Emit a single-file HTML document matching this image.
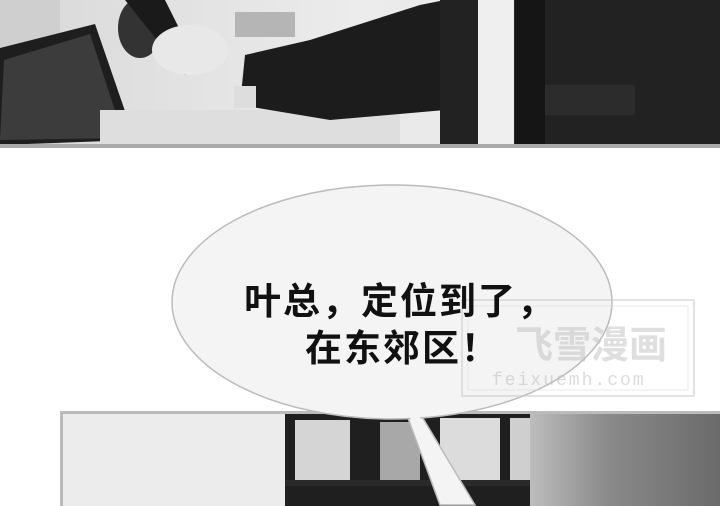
<!DOCTYPE html>
<html><head><meta charset="utf-8">
<style>
html,body{margin:0;padding:0;background:#fff;}
#root{position:relative;width:720px;height:506px;overflow:hidden;background:#fff;font-family:"Liberation Sans","Noto Sans CJK SC",sans-serif;}
.abs{position:absolute;}
</style></head>
<body>
<div id="root">
<svg class="abs" style="left:0;top:0" width="720" height="506">
 <defs>
  <linearGradient id="bg1" x1="0" x2="1"><stop offset="0" stop-color="#d8d8d8"/><stop offset="0.5" stop-color="#ececec"/><stop offset="1" stop-color="#e0e0e0"/></linearGradient>
  <linearGradient id="hair" x1="0" x2="1"><stop offset="0" stop-color="#bdbdbd"/><stop offset="0.4" stop-color="#8a8a8a"/><stop offset="1" stop-color="#6a6a6a"/></linearGradient>
 </defs>
 <g>
  <rect x="0" y="0" width="720" height="145" fill="url(#bg1)"/>
  <rect x="0" y="0" width="60" height="145" fill="#cfcfcf"/>
  <rect x="235" y="12" width="60" height="25" fill="#b5b5b5"/>
  <ellipse cx="140" cy="28" rx="22" ry="30" fill="#333"/>
  <polygon points="0,48 95,24 135,140 0,145" fill="#1e1e1e"/>
  <polygon points="4,60 90,34 124,138 0,140" fill="#3c3c3c"/>
  <rect x="100" y="110" width="300" height="35" fill="#dedede"/>
  <polygon points="125,0 165,0 200,70 185,75" fill="#1a1a1a"/>
  <ellipse cx="190" cy="50" rx="38" ry="25" fill="#e8e8e8"/>
  <polygon points="245,55 310,40 420,5 445,0 445,110 330,120 240,105" fill="#1c1c1c"/>
  <rect x="234" y="86" width="22" height="22" fill="#ddd"/>
  <rect x="440" y="0" width="280" height="145" fill="#222"/>
  <rect x="478" y="0" width="36" height="145" fill="#efefef"/>
  <rect x="515" y="0" width="30" height="145" fill="#151515"/>
  <rect x="545" y="85" width="90" height="30" fill="#2c2c2c"/>
  <rect x="0" y="144" width="720" height="4" fill="#aaa"/>
 </g>
 <g>
  <rect x="60" y="411" width="662" height="100" fill="#bbb"/>
  <rect x="63" y="414" width="660" height="95" fill="#ececec"/>
  <rect x="285" y="414" width="270" height="95" fill="#1f1f1f"/>
  <rect x="295" y="420" width="55" height="60" fill="#d5d5d5"/>
  <rect x="380" y="422" width="40" height="58" fill="#a8a8a8"/>
  <rect x="440" y="418" width="60" height="62" fill="#dcdcdc"/>
  <rect x="510" y="418" width="40" height="62" fill="#cfcfcf"/>
  <rect x="285" y="480" width="270" height="6" fill="#2a2a2a"/>
  <rect x="530" y="414" width="192" height="95" fill="url(#hair)"/>
 </g>
 <g>
  <polygon points="415,405 475,505 440,505 405,410" fill="#f4f4f4" stroke="#bbb" stroke-width="1.5"/>
  <ellipse cx="392" cy="302" rx="220" ry="117" fill="#f4f4f4" stroke="#bbb" stroke-width="1.5"/>
  <polygon points="410,400 470,503 444,503 404,402" fill="#f4f4f4"/>
 </g>
 <g opacity="0.5">
  <rect x="462" y="300" width="232" height="96" fill="none" stroke="#c8c8c8" stroke-width="2"/>
  <rect x="468" y="306" width="220" height="84" fill="none" stroke="#d5d5d5" stroke-width="1"/>
  <text x="515" y="358" font-size="38" font-weight="bold" fill="#c0c0c0" font-family="Noto Sans CJK SC, sans-serif">飞雪漫画</text>
  <text x="492" y="385" font-size="18" fill="#b8b8b8" font-family="Liberation Mono, monospace" letter-spacing="2">feixuemh.com</text>
 </g>
</svg>
<div class="abs" style="left:244px;top:271px;font-size:37px;font-weight:bold;color:#111;letter-spacing:2px;white-space:nowrap;font-family:'Liberation Sans','Noto Sans CJK SC',sans-serif;">叶总，定位到了，</div>
<div class="abs" style="left:305px;top:318px;font-size:37px;font-weight:bold;color:#111;letter-spacing:2px;white-space:nowrap;font-family:'Liberation Sans','Noto Sans CJK SC',sans-serif;">在东郊区！</div>
</div>
</body></html>
